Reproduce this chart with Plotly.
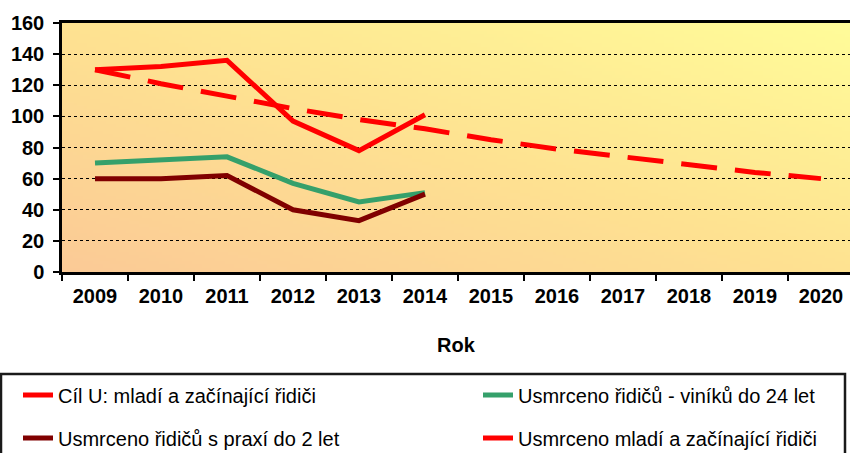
import zlib, struct, base64
import plotly.graph_objects as go

years = ["2009", "2010", "2011", "2012", "2013", "2014", "2015", "2016", "2017", "2018", "2019", "2020"]
cil_u = [130, 121, 113, 105, 98, 92, 85, 79, 74, 69, 64, 60]
usmrceno_viniku_24 = [70, 72, 74, 57, 45, 51]
usmrceno_praxe_2 = [60, 60, 62, 40, 33, 50]
usmrceno_mladi = [130, 132, 136, 97, 78, 101]

names = ["Cíl U: mladí a začínající řidiči",
         "Usmrceno řidičů - viníků do 24 let",
         "Usmrceno řidičů s praxí do 2 let",
         "Usmrceno mladí a začínající řidiči"]

# ---- gradient background image (diagonal: peach bottom-left -> yellow top-right)
def grad_png(w, h):
    stops = [(0.0, (251, 202, 150)), (0.5, (254, 226, 145)), (1.0, (255, 252, 153))]
    def col(t):
        for i in range(len(stops) - 1):
            t0, c0 = stops[i]
            t1, c1 = stops[i + 1]
            if t <= t1:
                f = (t - t0) / (t1 - t0)
                return bytes(int(round(c0[k] + (c1[k] - c0[k]) * f)) for k in range(3))
        return bytes(stops[-1][1])
    raw = b""
    for y in range(h):
        row = b"\x00"
        v = y / (h - 1)
        for x in range(w):
            u = x / (w - 1)
            t = (u + (1 - v)) / 2
            row += col(t)
        raw += row
    def chunk(tag, data):
        return struct.pack(">I", len(data)) + tag + data + struct.pack(">I", zlib.crc32(tag + data) & 0xffffffff)
    png = (b"\x89PNG\r\n\x1a\n" + chunk(b"IHDR", struct.pack(">IIBBBBB", w, h, 8, 2, 0, 0, 0))
           + chunk(b"IDAT", zlib.compress(raw)) + chunk(b"IEND", b""))
    return "data:image/png;base64," + base64.b64encode(png).decode()

bg = grad_png(240, 80)

FONT = "Liberation Sans, Arial, sans-serif"

fig = go.Figure()
fig.add_trace(go.Scatter(x=years, y=cil_u, name=names[0], mode="lines",
                         line=dict(color="#FF0000", width=5, dash="36px,18px"), legend="legend"))
fig.add_trace(go.Scatter(x=years[:len(usmrceno_viniku_24)], y=usmrceno_viniku_24, name=names[1], mode="lines",
                         line=dict(color="#35A06B", width=5), legend="legend2"))
fig.add_trace(go.Scatter(x=years[:len(usmrceno_praxe_2)], y=usmrceno_praxe_2, name=names[2], mode="lines",
                         line=dict(color="#800000", width=5), legend="legend3"))
fig.add_trace(go.Scatter(x=years[:len(usmrceno_mladi)], y=usmrceno_mladi, name=names[3], mode="lines",
                         line=dict(color="#FF0000", width=5), legend="legend4"))

def leg(xpx, ypx):
    return dict(orientation="h", xref="container", yref="container", x=xpx / 850, xanchor="left",
                y=1 - ypx / 453, yanchor="middle", bgcolor="rgba(0,0,0,0)", borderwidth=0,
                font=dict(family=FONT, size=20, color="#000"), itemwidth=30)

fig.update_layout(
    width=850, height=453,
    margin=dict(l=62, r=0, t=23, b=181, autoexpand=False),
    paper_bgcolor="white",
    plot_bgcolor="rgba(0,0,0,0)",
    showlegend=True,
    legend=leg(18, 395),
    legend2=leg(478, 395),
    legend3=leg(18, 438),
    legend4=leg(478, 438),
    images=[dict(source=bg, xref="paper", yref="paper", x=0, y=1, sizex=1, sizey=1,
                 xanchor="left", yanchor="top", sizing="stretch", layer="below")],
    xaxis=dict(type="category", categoryorder="array", categoryarray=years, automargin=False,
               range=[-0.5, 11.44], tickson="boundaries", ticks="outside", ticklen=6,
               tickcolor="#000", tickwidth=1.5, ticklabelstandoff=4,
               showline=True, linecolor="#000", linewidth=2.5, mirror=True,
               showgrid=False, tickfont=dict(family=FONT, size=20, color="#000", weight="bold"),
               title=dict(text="<b>Rok</b>", font=dict(family=FONT, size=20, color="#000"), standoff=33)),
    yaxis=dict(range=[0, 160], dtick=20, tick0=0, ticks="outside", ticklen=6, tickcolor="#000",
               tickwidth=1.5, showline=True, linecolor="#000", linewidth=2.5, automargin=False,
               ticklabelstandoff=5,
               showgrid=True, gridcolor="#000", griddash="dot", gridwidth=1, zeroline=False,
               tickfont=dict(family=FONT, size=20, color="#000", weight="bold")),
    shapes=[dict(type="rect", xref="paper", yref="paper",
                 x0=(1 - 62) / 788, x1=(845 - 62) / 788,
                 y0=(272 - 470) / 249, y1=(272 - 374) / 249,
                 line=dict(color="#1a1a1a", width=2.5), fillcolor="rgba(0,0,0,0)", layer="above")],
)

fig.write_html("out.html", config={"displayModeBar": False},
               post_script="document.body.style.margin='0px';document.body.style.overflow='hidden';")
